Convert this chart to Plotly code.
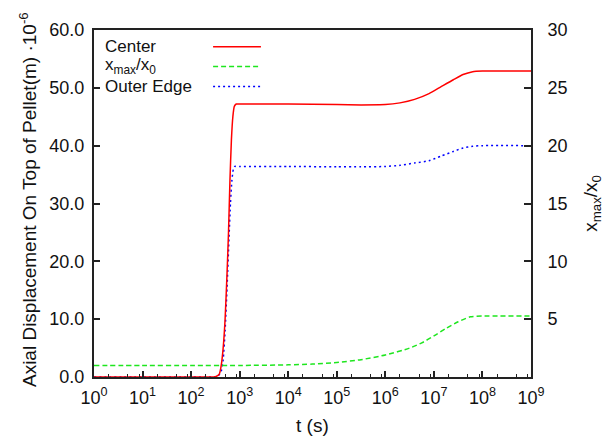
import plotly.graph_objects as go

# Time samples (s) and responses
t_center = [1, 10, 100, 251, 316, 380, 417, 457, 501, 550, 589, 631, 676, 724, 776, 851, 1000,
            1e4, 1e5, 3.16e5, 1e6, 2e6, 4e6, 7.94e6, 1.41e7, 2.51e7, 3.98e7, 6.31e7, 1e8, 1e9]
center = [0, 0, 0, 0, 0.05, 0.5, 2, 5, 10, 18, 25, 34, 41, 45, 46.8, 47.2, 47.2,
          47.2, 47.1, 47.05, 47.1, 47.4, 48.0, 49.0, 50.2, 51.4, 52.3, 52.8, 52.9, 52.9]

t_edge = [1, 10, 100, 282, 355, 417, 457, 501, 550, 603, 646, 692, 741, 794, 1000,
          1e4, 1e5, 3.16e5, 1e6, 2e6, 4e6, 7.94e6, 1.41e7, 2.51e7, 3.98e7, 6.31e7, 1e8, 1e9]
outer_edge = [0, 0, 0, 0, 0.1, 1.0, 3, 8, 15.5, 24, 30, 34, 35.9, 36.4, 36.4,
              36.4, 36.35, 36.35, 36.4, 36.6, 37.0, 37.4, 38.2, 39.0, 39.6, 39.9, 40.0, 40.0]

t_ratio = [1, 10, 100, 1000, 1e4, 3.16e4, 1e5, 3.16e5, 1e6, 3.16e6, 5.62e6, 1e7,
           1.78e7, 3.16e7, 5.62e7, 1e8, 1e9]
x_ratio = [1.0, 1.0, 1.0, 1.0, 1.05, 1.12, 1.25, 1.5, 1.9, 2.5, 2.95, 3.55,
           4.2, 4.78, 5.2, 5.27, 5.27]

x_tickvals = [10 ** k for k in range(10)]
x_ticktext = [f"10<sup>{k}</sup>" for k in range(10)]
y_tickvals = [0, 10, 20, 30, 40, 50, 60]
y2_tickvals = [5, 10, 15, 20, 25, 30]

legend_names = ["Center", "x<sub>max</sub>/x<sub>0</sub>", "Outer Edge"]
colors = ["#ff0000", "#1ee61e", "#0000ff"]
dashes = ["solid", "5px,3px", "2px,3px"]

FONT = "Liberation Sans, Arial, sans-serif"

fig = go.Figure()
fig.add_trace(go.Scatter(x=t_edge, y=outer_edge, mode="lines",
                         line=dict(color=colors[2], width=1.5, dash=dashes[2],
                                   shape="spline", smoothing=0.6),
                         showlegend=False))
fig.add_trace(go.Scatter(x=t_ratio, y=x_ratio, mode="lines", yaxis="y2",
                         line=dict(color=colors[1], width=1.5, dash=dashes[1],
                                   shape="spline", smoothing=0.6),
                         showlegend=False))
fig.add_trace(go.Scatter(x=t_center, y=center, mode="lines",
                         line=dict(color=colors[0], width=1.5, dash=dashes[0],
                                   shape="spline", smoothing=0.6),
                         showlegend=False))

# Minor ticks on the log axis
minor_vals = [m * 10 ** k for k in range(9) for m in (2, 5, 8.5)]

fig.update_layout(
    width=606, height=437,
    margin=dict(l=94, r=75, t=30, b=60),
    paper_bgcolor="white", plot_bgcolor="white",
    font=dict(family=FONT, size=18, color="#111"),
    xaxis=dict(type="log", range=[0, 9], tickmode="array", tickvals=x_tickvals,
               ticktext=x_ticktext, ticks="inside", ticklen=6, tickwidth=1.5,
               tickcolor="#222", showline=True, linecolor="#222", linewidth=2,
               mirror=True, showgrid=False, zeroline=False, ticklabelstandoff=3,
               minor=dict(tickmode="array", tickvals=minor_vals, ticks="inside",
                          ticklen=3, tickwidth=1, tickcolor="#222", showgrid=False)),
    yaxis=dict(range=[0, 60], tickmode="array", tickvals=y_tickvals, tickformat=".1f",
               ticks="inside", ticklen=6, tickwidth=1.5, tickcolor="#222",
               showline=True, linecolor="#222", linewidth=2, showgrid=False,
               zeroline=False, ticklabelstandoff=4),
    yaxis2=dict(range=[0, 30], overlaying="y", side="right", tickmode="array",
                tickvals=y2_tickvals, ticks="inside", ticklen=7, tickwidth=1.5,
                tickcolor="#222", showline=True, linecolor="#222", linewidth=2,
                showgrid=False, zeroline=False, ticklabelstandoff=11),
)

# Axis titles
fig.add_annotation(text="Axial Displacement On Top of Pellet(m) ·10<sup>-6</sup>",
                   xref="paper", yref="paper", x=-0.151, y=0.51, textangle=-90,
                   showarrow=False, xanchor="center", yanchor="middle",
                   font=dict(size=19, family=FONT))
fig.add_annotation(text="x<sub>max</sub>/x<sub>0</sub>",
                   xref="paper", yref="paper", x=1.138, y=0.5, textangle=-90,
                   showarrow=False, xanchor="center", yanchor="middle",
                   font=dict(size=19, family=FONT))
fig.add_annotation(text="t (s)", xref="paper", yref="paper", x=0.5, y=-0.14,
                   showarrow=False, xanchor="center", yanchor="middle",
                   font=dict(size=19, family=FONT))

# Legend: label on the left, line sample on the right
legend_rows = [0.952, 0.895, 0.837]
for name, col, dash, yy in zip(legend_names, colors, dashes, legend_rows):
    fig.add_annotation(text=name, xref="paper", yref="paper", x=0.021, y=yy,
                       xanchor="left", yanchor="middle", showarrow=False,
                       font=dict(size=17, family=FONT))
    fig.add_shape(type="line", xref="paper", yref="paper", x0=0.2725, x1=0.382,
                  y0=yy, y1=yy, line=dict(color=col, width=1.5, dash=dash))

fig.write_html("out.html")
